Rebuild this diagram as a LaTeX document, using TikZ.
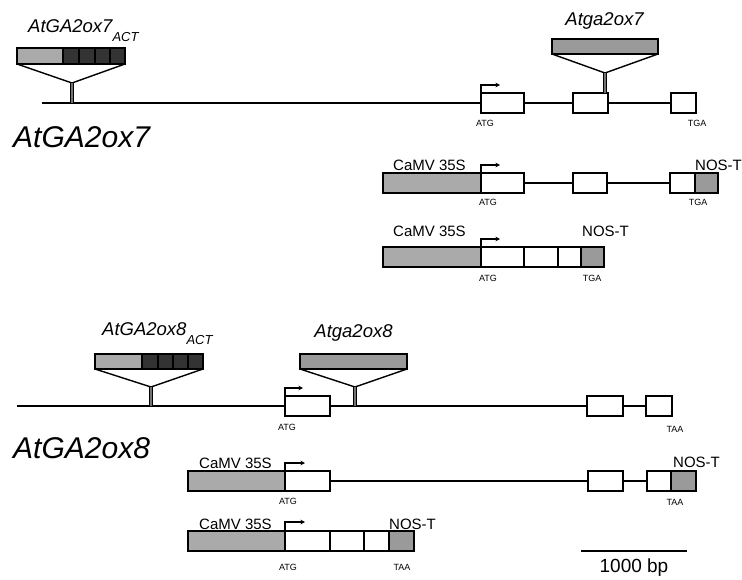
\documentclass[tikz,border=0pt]{standalone}
\usepackage{fontspec}
\setmainfont{Liberation Sans}
\usetikzlibrary{fit,arrows.meta}
\definecolor{promgray}{HTML}{AAAAAA}
\definecolor{nosgray}{HTML}{9A9A9A}
\definecolor{actdark}{HTML}{333333}
\newcommand\gbox[6]{\node[#1, fit={(#3,#4) (#5,#6)}] (#2) {};}
\tikzset{
  bx/.style={draw=black, line width=1.4pt, inner sep=0pt, outer sep=0pt},
  exon/.style={bx, fill=white},
  prom/.style={bx, fill=promgray},
  nos/.style={bx, fill=nosgray},
  dk/.style={bx, fill=actdark},
  intron/.style={line width=1.4pt},
  tri/.style={line width=1.4pt},
  stem/.style={line width=1.1pt, draw=black, double=black!55, double distance=1.2pt},
  tss/.style={-{Stealth[length=4.5pt,width=4.5pt]}, line width=1.1pt},
  sm/.style={font=\fontsize{9}{10}\selectfont, inner sep=0pt},
  mid/.style={font=\fontsize{15}{16}\selectfont, inner sep=0pt, anchor=base west},
  ins/.style={font=\fontsize{18.5}{20}\selectfont\itshape, inner sep=0pt},
  big/.style={font=\fontsize{30}{32}\selectfont\itshape, inner sep=0pt, anchor=base west},
}
\begin{document}
\begin{tikzpicture}[x=1pt,y=-1pt]
\useasboundingbox (0,0) rectangle (742,579);

% ===== AtGA2ox7 genomic =====
\coordinate (s7start) at (42,103);
\gbox{exon}{s7e1}{481}{93}{524}{113}
\gbox{exon}{s7e2}{573}{93}{608}{113}
\gbox{exon}{s7e3}{671}{93}{696}{113}
\draw[intron] (s7start) -- (s7e1.west);
\draw[intron] (s7e1.east) -- (s7e2.west);
\draw[intron] (s7e2.east) -- (s7e3.west);
\draw[tss] (s7e1.north west) -- ++(0,-8) -- ++(19,0);
\node[sm] (s7atg) at (485,123) {ATG};
\node[sm] (s7tga) at (697,123) {TGA};

% ACT insertion 7
\gbox{prom}{act7a}{17}{48}{63}{64}
\gbox{dk}{act7b}{63}{48}{79}{64}
\gbox{dk}{act7c}{79}{48}{95}{64}
\gbox{dk}{act7d}{95}{48}{110}{64}
\gbox{dk}{act7e}{110}{48}{125}{64}
\coordinate (act7apex) at (72,83);
\draw[tri] (act7a.south west) -- (act7apex) -- (act7e.south east);
\draw[stem] (act7apex) -- (act7apex |- s7start);
\node[ins, anchor=base west] (act7lbl) at (28,32) {AtGA2ox7\raisebox{-9pt}{\fontsize{13}{13}\selectfont ACT}};

% mutant insertion 7
\gbox{nos}{mut7}{552}{39}{658}{54}
\coordinate (mut7apex) at (605,73);
\draw[tri] (mut7.south west) -- (mut7apex) -- (mut7.south east);
\draw[stem] (mut7apex) -- (mut7apex |- s7e2.north);
\node[ins, anchor=base] (mut7lbl) at (604.5,25.5) {Atga2ox7};

\node[big] (g7lbl) at (13,147) {AtGA2ox7};

% ===== construct 1 =====
\gbox{prom}{c1p}{383}{173}{481}{193}
\gbox{exon}{c1e1}{481}{173}{524}{193}
\gbox{exon}{c1e2}{573}{173}{607}{193}
\gbox{exon}{c1e3}{670}{173}{695}{193}
\gbox{nos}{c1n}{695}{173}{718}{193}
\draw[intron] (c1e1.east) -- (c1e2.west);
\draw[intron] (c1e2.east) -- (c1e3.west);
\draw[tss] (c1e1.north west) -- ++(0,-8) -- ++(19,0);
\node[mid] (c1lbl) at (393,170) {CaMV 35S};
\node[mid] (c1nlbl) at (695,170) {NOS-T};
\node[sm] (c1atg) at (488,202) {ATG};
\node[sm] (c1tga) at (698,202) {TGA};

% ===== construct 2 =====
\gbox{prom}{c2p}{383}{247}{481}{267}
\gbox{exon}{c2e1}{481}{247}{524}{267}
\gbox{exon}{c2e2}{524}{247}{558}{267}
\gbox{exon}{c2e3}{558}{247}{581}{267}
\gbox{nos}{c2n}{581}{247}{604}{267}
\draw[tss] (c2e1.north west) -- ++(0,-8) -- ++(19,0);
\node[mid] (c2lbl) at (393,236) {CaMV 35S};
\node[mid] (c2nlbl) at (582,236) {NOS-T};
\node[sm] (c2atg) at (488,278) {ATG};
\node[sm] (c2tga) at (592,278) {TGA};

% ===== AtGA2ox8 genomic =====
\coordinate (s8start) at (17,406);
\gbox{exon}{s8e1}{285}{396}{330}{416}
\gbox{exon}{s8e2}{587}{396}{623}{416}
\gbox{exon}{s8e3}{646}{396}{672}{416}
\draw[intron] (s8start) -- (s8e1.west);
\draw[intron] (s8e1.east) -- (s8e2.west);
\draw[intron] (s8e2.east) -- (s8e3.west);
\draw[tss] (s8e1.north west) -- ++(0,-8) -- ++(18,0);
\node[sm] (s8atg) at (287,427) {ATG};
\node[sm] (s8taa) at (675,429) {TAA};

% ACT insertion 8
\gbox{prom}{act8a}{95}{354}{142}{369}
\gbox{dk}{act8b}{142}{354}{158}{369}
\gbox{dk}{act8c}{158}{354}{173}{369}
\gbox{dk}{act8d}{173}{354}{188}{369}
\gbox{dk}{act8e}{188}{354}{203}{369}
\coordinate (act8apex) at (151,387);
\draw[tri] (act8a.south west) -- (act8apex) -- (act8e.south east);
\draw[stem] (act8apex) -- (act8apex |- s8start);
\node[ins, anchor=base west] (act8lbl) at (102,335) {AtGA2ox8\raisebox{-9pt}{\fontsize{13}{13}\selectfont ACT}};

% mutant insertion 8
\gbox{nos}{mut8}{300}{354}{407}{369}
\coordinate (mut8apex) at (355,387);
\draw[tri] (mut8.south west) -- (mut8apex) -- (mut8.south east);
\draw[stem] (mut8apex) -- (mut8apex |- s8start);
\node[ins, anchor=base] (mut8lbl) at (353.5,337) {Atga2ox8};

\node[big] (g8lbl) at (13,458) {AtGA2ox8};

% ===== construct 3 =====
\gbox{prom}{c3p}{188}{471}{285}{491}
\gbox{exon}{c3e1}{285}{471}{330}{491}
\gbox{exon}{c3e2}{588}{471}{623}{491}
\gbox{exon}{c3e3}{647}{471}{671}{491}
\gbox{nos}{c3n}{671}{471}{696}{491}
\draw[intron] (c3e1.east) -- (c3e2.west);
\draw[intron] (c3e2.east) -- (c3e3.west);
\draw[tss] (c3e1.north west) -- ++(0,-8) -- ++(20,0);
\node[mid] (c3lbl) at (199,468) {CaMV 35S};
\node[mid] (c3nlbl) at (673,467) {NOS-T};
\node[sm] (c3atg) at (288,501) {ATG};
\node[sm] (c3taa) at (675,502) {TAA};

% ===== construct 4 =====
\gbox{prom}{c4p}{188}{531}{285}{551}
\gbox{exon}{c4e1}{285}{531}{330}{551}
\gbox{exon}{c4e2}{330}{531}{364}{551}
\gbox{exon}{c4e3}{364}{531}{389}{551}
\gbox{nos}{c4n}{389}{531}{414}{551}
\draw[tss] (c4e1.north west) -- ++(0,-9) -- ++(20,0);
\node[mid] (c4lbl) at (199,529) {CaMV 35S};
\node[mid] (c4nlbl) at (389,529) {NOS-T};
\node[sm] (c4atg) at (288,567) {ATG};
\node[sm] (c4taa) at (402,567) {TAA};

% ===== scale bar =====
\coordinate (sbl) at (581,551);
\coordinate (sbr) at (687,551);
\draw[line width=1.3pt] (sbl) -- (sbr);
\node[font=\fontsize{19}{20}\selectfont, inner sep=0pt] (sblbl) at (634,568) {1000 bp};
\end{tikzpicture}
\end{document}
